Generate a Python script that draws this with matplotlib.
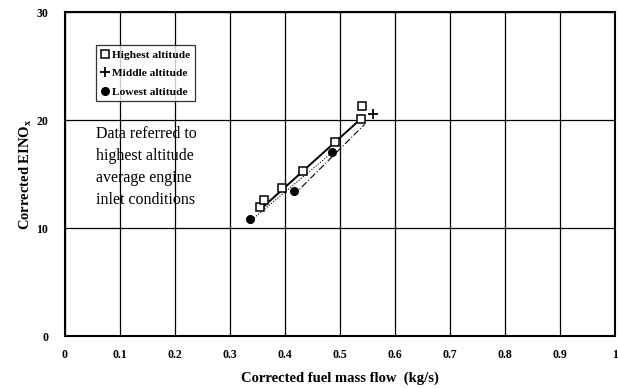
import numpy as np
import matplotlib
matplotlib.use('Agg')
import matplotlib.pyplot as plt
from matplotlib import rcParams

# ===== 字体 / 样式 =====
rcParams['font.family'] = ['Liberation Serif', 'DejaVu Serif']
rcParams['mathtext.fontset'] = 'custom'
rcParams['mathtext.rm'] = 'Liberation Serif'
rcParams['mathtext.bf'] = 'Liberation Serif:bold'

# ===== 数据 =====
# 最高高度 (空心方块)
high_x = [0.355, 0.362, 0.395, 0.433, 0.491, 0.538, 0.540]
high_y = [11.9, 12.6, 13.7, 15.3, 18.0, 20.1, 21.3]
# 中间高度 (+)
mid_x = [0.560]
mid_y = [20.6]
# 最低高度 (实心点)
low_x = [0.336, 0.417, 0.486]
low_y = [10.8, 13.4, 17.0]

# 拟合线端点
fit_high_x = [0.355, 0.538]
fit_high_y = [11.7, 20.1]
fit_mid_x = [0.415, 0.545]
fit_mid_y = [13.0, 19.6]
fit_low_x = [0.336, 0.486]
fit_low_y = [10.6, 17.0]

xticks = np.round(np.arange(0, 1.01, 0.1), 1)
xtick_labels = ['0', '0.1', '0.2', '0.3', '0.4', '0.5', '0.6', '0.7', '0.8', '0.9', '1']
yticks = [0, 10, 20, 30]

fig = plt.figure(figsize=(6.18, 3.88), dpi=100)
ax = fig.add_axes([0.105, 0.134, 0.890, 0.835])

ax.plot(fit_high_x, fit_high_y, '-', color='black', lw=1.4, zorder=3)
ax.plot(fit_mid_x, fit_mid_y, color='black', lw=0.8, ls=(0, (6, 2, 1, 2)), zorder=3)
ax.plot(fit_low_x, fit_low_y, color='black', lw=0.8, ls=(0, (1, 1.5)), zorder=3)

ax.plot(high_x, high_y, 's', ms=5.5, mfc='white', mec='black', mew=1.1,
        ls='none', zorder=5, label='Highest altitude')
ax.plot(mid_x, mid_y, '+', ms=6.5, color='black', mew=1.3,
        ls='none', zorder=5, label='Middle altitude')
ax.plot(low_x, low_y, 'o', ms=5.5, color='black',
        ls='none', zorder=4, label='Lowest altitude')

ax.set_xlim(0, 1)
ax.set_ylim(0, 30)
ax.set_xticks(xticks)
ax.set_xticklabels(xtick_labels)
ax.set_yticks(yticks)
ax.tick_params(length=0, labelsize=8.5, pad=9)
for lab in ax.get_xticklabels() + ax.get_yticklabels():
    lab.set_fontweight('bold')
ax.tick_params(axis='y', pad=12)

ax.grid(True, color='black', lw=0.9)
ax.set_axisbelow(True)
for sp in ax.spines.values():
    sp.set_linewidth(1.5)

ax.set_xlabel('Corrected fuel mass flow  (kg/s)', fontsize=10.5,
              fontweight='bold', labelpad=8)
ax.set_ylabel(r'Corrected EINO$_\mathbf{x}$', fontsize=10.5,
              fontweight='bold', labelpad=2)

leg = ax.legend(loc='upper left', bbox_to_anchor=(0.056, 0.898),
                prop={'weight': 'bold', 'size': 8.2}, frameon=True, fancybox=False,
                edgecolor='black', handletextpad=0.15, handlelength=0.9,
                borderpad=0.4, labelspacing=0.75, borderaxespad=0)
leg.get_frame().set_linewidth(0.9)
leg.set_zorder(10)

ax.text(0.056, 0.648, 'Data referred to\nhighest altitude\naverage engine\ninlet conditions',
        transform=ax.transAxes, fontsize=11.5, va='top', ha='left',
        linespacing=1.5, zorder=10)

fig.savefig('out.png', dpi=100)
